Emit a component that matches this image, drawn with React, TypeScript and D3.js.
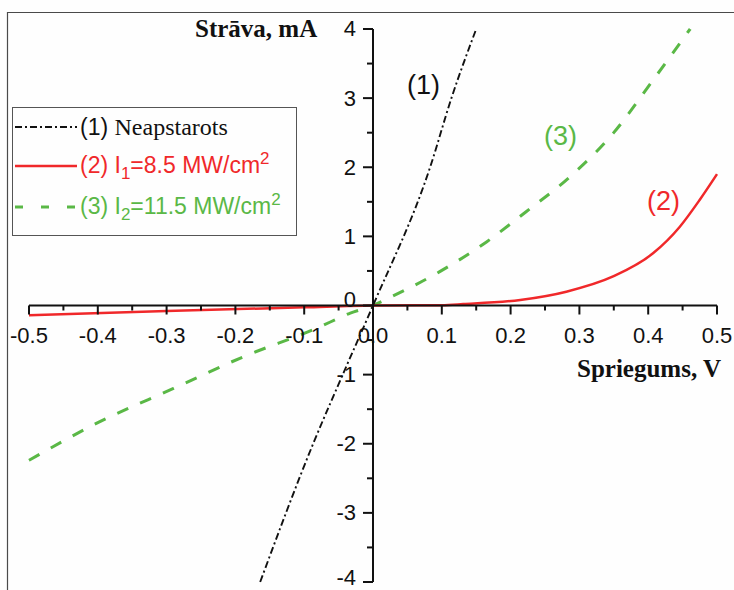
import React from "react";
import * as d3 from "d3";

// (1) Neapstarots
const neapX = [-0.164, -0.087, -0.044, 0, 0.083, 0.114, 0.15];
const neapY = [-4, -2, -1, 0, 2, 3, 4];
// (2) I1 = 8.5 MW/cm2
const i1X = [-0.5, -0.3, -0.1, 0, 0.1, 0.131, 0.214, 0.281, 0.349, 0.407, 0.446, 0.475, 0.5];
const i1Y = [-0.14, -0.08, -0.026, 0, 0.005, 0.02, 0.08, 0.2, 0.42, 0.755, 1.14, 1.53, 1.9];
// (3) I2 = 11.5 MW/cm2
const i2X = [-0.5, -0.397, -0.29, -0.188, -0.082, -0.033, 0, 0.027, 0.097, 0.165, 0.223, 0.286, 0.349, 0.407, 0.461];
const i2Y = [-2.24, -1.68, -1.2, -0.74, -0.33, -0.11, 0, 0.127, 0.49, 0.92, 1.36, 1.86, 2.49, 3.26, 4.0];

const xTicks = [-0.5, -0.4, -0.3, -0.2, -0.1, 0, 0.1, 0.2, 0.3, 0.4, 0.5];
const yTicks = [-4, -3, -2, -1, 0, 1, 2, 3, 4];

const W = 734;
const H = 590;
const ARIAL = "'Liberation Sans', Arial, sans-serif";
const TIMES = "'Liberation Serif', 'Times New Roman', serif";

const RED = "#f0282a";
const GREEN = "#5ab846";

export default function App() {
  const x = d3.scaleLinear().domain([-0.5, 0.5]).range([29, 717]);
  const y = d3.scaleLinear().domain([-4, 4]).range([582, 29]);

  const line = d3
    .line<[number, number]>()
    .x(d => x(d[0]))
    .y(d => y(d[1]))
    .curve(d3.curveMonotoneX);

  const zip = (a: number[], b: number[]) => a.map((v, i) => [v, b[i]] as [number, number]);

  const x0 = x(0);
  const y0 = y(0);

  const xMinor = d3.range(-0.45, 0.5, 0.1);
  const yMinor = d3.range(-3.5, 4, 1);

  // small nudges so the 0 and -4 labels sit like the original
  const yLabelPos = (t: number) => (t === 0 ? y(t) - 6 : t === -4 ? y(t) - 4 : y(t));

  return (
    <svg width={W} height={H} style={{ position: "absolute", left: 0, top: 0, background: "#fefefe" }}>
      {/* frame on top and left */}
      <path d={`M7.5,${H} V12.5 H${W}`} fill="none" stroke="#4a4a4a" strokeWidth={1.2} />

      {/* curves */}
      <path d={line(zip(i2X, i2Y)) || ""} fill="none" stroke={GREEN} strokeWidth={3} strokeDasharray="12,13" />
      <path d={line(zip(i1X, i1Y)) || ""} fill="none" stroke={RED} strokeWidth={2.5} />
      <path d={line(zip(neapX, neapY)) || ""} fill="none" stroke="#111" strokeWidth={1.9} strokeDasharray="7,3,2,3" />

      {/* x axis */}
      <g stroke="#111" strokeWidth={2}>
        <line x1={x(-0.5)} x2={x(0.5)} y1={y0} y2={y0} />
        {xTicks.map(t => (
          <line key={"xt" + t} x1={x(t)} x2={x(t)} y1={y0} y2={y0 + 9} />
        ))}
        {xMinor.map(t => (
          <line key={"xm" + t} x1={x(t)} x2={x(t)} y1={y0} y2={y0 + 5} />
        ))}
      </g>
      <g fontFamily={ARIAL} fontSize={22} fill="#111" textAnchor="middle">
        {xTicks.map(t => (
          <text key={"xl" + t} x={x(t)} y={343}>
            {d3.format(".1f")(t).replace("−", "-")}
          </text>
        ))}
      </g>

      {/* y axis */}
      <g stroke="#111" strokeWidth={2}>
        <line x1={x0} x2={x0} y1={y(4)} y2={y(-4)} />
        {yTicks.map(t => (
          <line key={"yt" + t} x1={x0 - 10} x2={x0} y1={y(t)} y2={y(t)} />
        ))}
        {yMinor.map(t => (
          <line key={"ym" + t} x1={x0 - 6} x2={x0} y1={y(t)} y2={y(t)} />
        ))}
      </g>
      <g fontFamily={ARIAL} fontSize={22} fill="#111" textAnchor="end">
        {yTicks.map(t => (
          <text key={"yl" + t} x={356} y={yLabelPos(t)} dy="0.34em">
            {String(t)}
          </text>
        ))}
      </g>

      {/* axis titles */}
      <text x={195} y={37} fontFamily={TIMES} fontWeight="bold" fontSize={25} fill="#111">
        Strāva, mA
      </text>
      <text x={577} y={377} fontFamily={TIMES} fontWeight="bold" fontSize={25} fill="#111">
        Spriegums, V
      </text>

      {/* curve labels */}
      <g fontFamily={ARIAL} fontSize={27}>
        <text x={407} y={94} fill="#111">(1)</text>
        <text x={544} y={145} fill={GREEN}>(3)</text>
        <text x={647} y={210} fill={RED}>(2)</text>
      </g>

      {/* legend */}
      <rect x={12.5} y={107.5} width={284} height={128} fill="#fefefe" stroke="#555" strokeWidth={1} />
      <line x1={15} x2={77} y1={127} y2={127} stroke="#111" strokeWidth={1.9} strokeDasharray="7,3,2,3" />
      <line x1={15} x2={77} y1={166} y2={166} stroke={RED} strokeWidth={2.5} />
      <line x1={15} x2={77} y1={207} y2={207} stroke={GREEN} strokeWidth={3} strokeDasharray="8,18" />
      <text x={80} y={135} fontSize={23} fill="#111">
        <tspan fontFamily={ARIAL}>(1) </tspan>
        <tspan fontFamily={TIMES} fontSize={24}>Neapstarots</tspan>
      </text>
      <text x={80} y={173} fontSize={23} fill={RED} fontFamily={ARIAL}>
        <tspan>(2) I</tspan>
        <tspan dy={6} fontSize={17}>1</tspan>
        <tspan dy={-6}>=8.5 MW/cm</tspan>
        <tspan dy={-9} fontSize={17}>2</tspan>
      </text>
      <text x={80} y={214} fontSize={23} fill={GREEN} fontFamily={ARIAL}>
        <tspan>(3) I</tspan>
        <tspan dy={6} fontSize={17}>2</tspan>
        <tspan dy={-6}>=11.5 MW/cm</tspan>
        <tspan dy={-9} fontSize={17}>2</tspan>
      </text>
    </svg>
  );
}
